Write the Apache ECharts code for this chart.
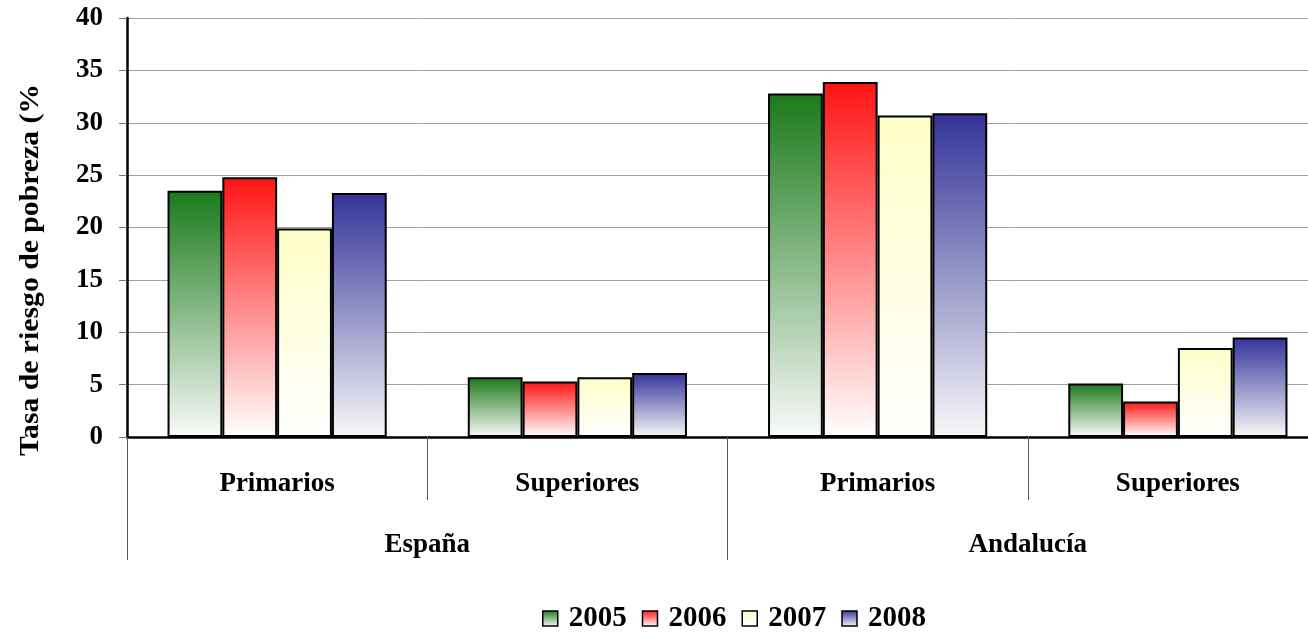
<!DOCTYPE html>
<html>
<head>
<meta charset="utf-8">
<script src="https://cdn.jsdelivr.net/npm/echarts@6/dist/echarts.min.js"></script>
<style>html,body{margin:0;padding:0;background:#fff}#c{width:1308px;height:632px}</style>
</head>
<body>
<div id="c"></div>
<script>
const categories = ['Primarios', 'Superiores', 'Primarios', 'Superiores'];
const groups = ['España', 'Andalucía'];
const years = ['2005', '2006', '2007', '2008'];
const s2005 = [23.5, 5.7, 32.8, 5.1];
const s2006 = [24.8, 5.3, 33.9, 3.4];
const s2007 = [19.9, 5.7, 30.7, 8.5];
const s2008 = [23.3, 6.1, 30.9, 9.5];
const yTicks = [0, 5, 10, 15, 20, 25, 30, 35, 40];
const yTitle = 'Tasa de riesgo de pobreza (%';

const seriesValues = [s2005, s2006, s2007, s2008];
const topColors = ['#1a7a1a', '#ff1414', '#ffffc8', '#333399'];
const bottomColors = ['#fafafa', '#ffffff', '#ffffff', '#f8f8f8'];
const FONT = '"Liberation Serif", "Times New Roman", serif';

const chart = echarts.init(document.getElementById('c'));
chart.setOption({
  animation: false,
  textStyle: { fontFamily: FONT },
  grid: { left: 127, top: 18, right: -20, height: 419, containLabel: false, outerBoundsMode: 'none' },
  legend: {
    left: 537, top: 599, itemWidth: 15, itemHeight: 15, itemGap: 15,
    icon: 'rect',
    textStyle: { fontFamily: FONT, fontWeight: 'bold', fontSize: 29, color: '#000', padding: [0, 0, 0, 6] },
    itemStyle: { borderColor: '#000', borderWidth: 1.5 },
    data: years
  },
  graphic: [{
    type: 'text', x: 31, y: 270, rotation: Math.PI / 2, scaleX: 1.1,
    style: { text: yTitle, font: 'bold 27px ' + FONT, fill: '#000', align: 'center', verticalAlign: 'middle' }
  }],
  xAxis: [{
    type: 'category', data: categories, position: 'bottom',
    axisLine: { lineStyle: { color: '#000', width: 2.5 } },
    axisTick: { show: true, interval: 0, length: 63, lineStyle: { color: '#555', width: 1 } },
    axisLabel: { interval: 0, margin: 34, fontFamily: FONT, fontWeight: 'bold', fontSize: 27, color: '#000' },
    splitLine: { show: false }
  }, {
    type: 'category', data: groups, position: 'bottom',
    axisLine: { show: false },
    axisTick: { show: true, interval: 0, length: 123, lineStyle: { color: '#555', width: 1 } },
    axisLabel: { interval: 0, margin: 95, fontFamily: FONT, fontWeight: 'bold', fontSize: 27, color: '#000' },
    splitLine: { show: false }
  }],
  yAxis: {
    type: 'value', min: 0, max: 40, interval: 5,
    axisLine: { show: true, lineStyle: { color: '#000', width: 2.5 } },
    axisTick: { show: true, length: 8, lineStyle: { color: '#777' } },
    axisLabel: {
      margin: 24, fontFamily: FONT, fontWeight: 'bold', fontSize: 27, color: '#000',
      formatter: v => (yTicks.indexOf(v) >= 0 ? String(v) : '')
    },
    splitLine: { show: true, lineStyle: { color: '#a0a0a0', width: 1 } }
  },
  series: years.map((y, i) => ({
    name: y, type: 'bar', xAxisIndex: 0, data: seriesValues[i],
    barGap: '0%', barCategoryGap: '27%',
    itemStyle: {
      borderColor: '#000', borderWidth: 2,
      color: new echarts.graphic.LinearGradient(0, 0, 0, 1, [
        { offset: 0, color: topColors[i] },
        { offset: 1, color: bottomColors[i] }
      ])
    }
  }))
});
</script>
</body>
</html>
